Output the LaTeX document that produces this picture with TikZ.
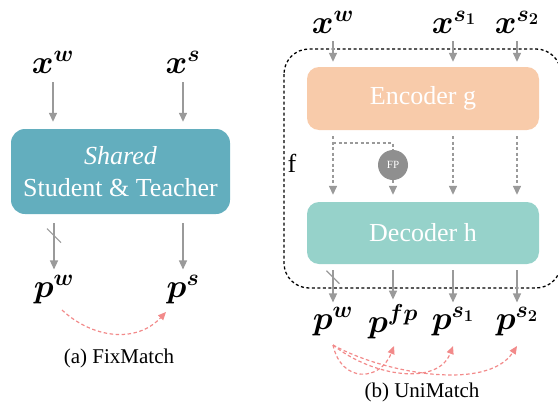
\RequirePackage{fix-cm}
\documentclass[tikz,border=0pt]{standalone}
\usepackage{amsmath,bm}
\usepackage{fontspec}
\setmainfont{Liberation Serif}
\newfontfamily\tnr{Liberation Serif}
\usetikzlibrary{arrows.meta,calc}
\definecolor{boxblue}{HTML}{63AEBE}
\definecolor{peach}{HTML}{F8CBAA}
\definecolor{tealbox}{HTML}{96D2CA}
\definecolor{arrgray}{HTML}{9A9A9A}
\definecolor{redc}{HTML}{F28A8A}
\definecolor{fpgray}{HTML}{8F8F8F}
\tikzset{
  arr/.style={draw=arrgray, line width=1.4pt, -{Triangle[length=9pt,width=8pt]}},
  darr/.style={arr, dash pattern=on 3pt off 2.5pt},
  dline/.style={draw=arrgray, line width=1.4pt, dash pattern=on 3pt off 2.5pt},
  redarr/.style={draw=redc, line width=1.2pt, dash pattern=on 3.5pt off 2.5pt, -{Triangle[length=8pt,width=7pt]}},
  slash/.style={draw=arrgray, line width=1.2pt},
  mlab/.style={inner sep=0pt, font=\fontsize{33}{40}\selectfont},
  blk/.style={rounded corners=14pt, text=white, align=center, font=\tnr\fontsize{26}{32}\selectfont, inner sep=0pt},
  captext/.style={inner sep=0pt, font=\tnr\fontsize{21}{24}\selectfont},
}
\begin{document}
\begin{tikzpicture}[x=1pt,y=-1pt]
\useasboundingbox (0,0) rectangle (558,402);
% ---------- (a) FixMatch ----------
\node[mlab] (xw) at (53,62) {$\bm{x^w}$};
\node[mlab] (xs) at (183,62) {$\bm{x^s}$};
\node[blk, fill=boxblue, minimum width=219pt, minimum height=85pt] (st) at (120.5,171.5) {\textit{Shared}\\Student \& Teacher};
\node[mlab] (pw) at (54,290) {$\bm{p^w}$};
\node[mlab] (ps) at (183,290) {$\bm{p^s}$};
\draw[arr, shorten <=9pt, shorten >=7pt] (xw.south) -- (xw.south |- st.north);
\draw[arr, shorten <=9pt, shorten >=7pt] (xs.south) -- (xs.south |- st.north);
\draw[arr, shorten <=9pt, shorten >=6pt] (st.south -| pw.north) -- coordinate[pos=0.35] (cutA) (pw.north);
\draw[arr, shorten <=9pt, shorten >=6pt] (st.south -| ps.north) -- (ps.north);
\draw[slash] ($(cutA)+(-7,-7)$) -- ($(cutA)+(7,7)$);
\coordinate (rA) at (62,310);
\coordinate (rB) at (166,312);
\draw[redarr] (rA) .. controls +(30,28) and +(-30,32) .. (rB);
\node[captext] (capA) at (119,358) {(a) FixMatch};
% ---------- (b) UniMatch ----------
\draw[line width=1.3pt, dash pattern=on 3pt off 2.5pt, rounded corners=25pt] (284,49) rectangle (561,288);
\node[font=\tnr\fontsize{26}{30}\selectfont, inner sep=0pt] (f) at (292,163) {f};
\node[mlab] (xw2) at (333,22) {$\bm{x^w}$};
\node[mlab] (xs1) at (454,22) {$\bm{x^{s_1}}$};
\node[mlab] (xs2) at (517,22) {$\bm{x^{s_2}}$};
\node[blk, rounded corners=12pt, fill=peach, minimum width=232pt, minimum height=63pt] (enc) at (423,98.5) {Encoder g};
\node[blk, rounded corners=12pt, fill=tealbox, minimum width=232pt, minimum height=62pt] (dec) at (423,233) {Decoder h};
\node[circle, fill=fpgray, minimum size=30pt, inner sep=0pt, text=white, font=\tnr\fontsize{11}{12}\selectfont] (fp) at (393,165) {FP};
\node[mlab] (pw2) at (333,322) {$\bm{p^w}$};
\node[mlab] (pfp) at (393,322) {$\bm{p^{fp}}$};
\node[mlab] (ps1) at (453,322) {$\bm{p^{s_1}}$};
\node[mlab] (ps2) at (517,322) {$\bm{p^{s_2}}$};
\coordinate (c1) at (333,0);
\coordinate (c2) at (453,0);
\coordinate (c3) at (517,0);
\coordinate (c4) at (393,0);
% top arrows
\draw[arr, shorten <=8pt, shorten >=5pt] (c1 |- xw2.south) -- (c1 |- enc.north);
\draw[arr, shorten <=8pt, shorten >=5pt] (c2 |- xs1.south) -- (c2 |- enc.north);
\draw[arr, shorten <=8pt, shorten >=5pt] (c3 |- xs2.south) -- (c3 |- enc.north);
% middle dashed arrows
\draw[darr, shorten <=6pt, shorten >=7pt] (c1 |- enc.south) -- (c1 |- dec.north);
\draw[darr, shorten <=6pt, shorten >=7pt] (c2 |- enc.south) -- (c2 |- dec.north);
\draw[darr, shorten <=6pt, shorten >=7pt] (c3 |- enc.south) -- (c3 |- dec.north);
\coordinate (br) at (333,143);
\draw[dline] (br) -- (br -| fp.north) -- (fp.north);
\draw[darr, shorten >=7pt] (fp.south) -- (fp.south |- dec.north);
% bottom arrows
\draw[arr, shorten <=6pt, shorten >=5pt] (c1 |- dec.south) -- coordinate[pos=0.3] (cutB) (c1 |- pw2.north);
\draw[arr, shorten <=6pt, shorten >=5pt] (c4 |- dec.south) -- (c4 |- pfp.north);
\draw[arr, shorten <=6pt, shorten >=5pt] (c2 |- dec.south) -- (c2 |- ps1.north);
\draw[arr, shorten <=6pt, shorten >=5pt] (c3 |- dec.south) -- (c3 |- ps2.north);
\draw[slash] ($(cutB)+(-6.5,-6.5)$) -- ($(cutB)+(6.5,6.5)$);
% red curves
\coordinate (r0) at (333,345);
\coordinate (r1) at (394,346);
\coordinate (r2) at (453,346);
\coordinate (r3) at (517,346);
\draw[redarr] (r0) .. controls +(8,38) and +(-14,36) .. (r1);
\draw[redarr] (r0) .. controls +(40,32) and +(-15,40) .. (r2);
\draw[redarr] (r0) .. controls +(50,28) and +(-30,46) .. (r3);
\node[captext] (capB) at (422,392) {(b) UniMatch};
\end{tikzpicture}
\end{document}
